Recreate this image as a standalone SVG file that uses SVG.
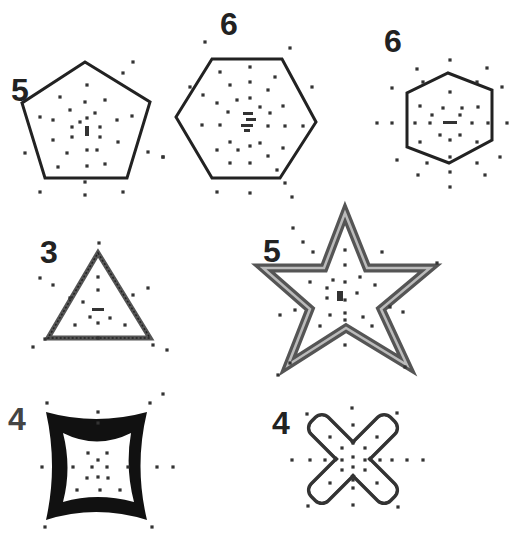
<svg xmlns="http://www.w3.org/2000/svg" width="510" height="534" viewBox="0 0 510 534">
<style>
.lbl{font-family:"Liberation Sans",Arial,sans-serif;font-weight:bold;font-size:32px;fill:#222}
.edge{fill:none;stroke:#222;stroke-width:3;stroke-linejoin:miter}
.d{fill:#333}
</style>
<defs>
<rect id="p" x="-1.6" y="-1.6" width="3.2" height="3.2"/>
</defs>
<rect width="510" height="534" fill="#fff"/>

<g id="pentagon">
<polygon class="edge" points="85,62 150,102 127,178 45,178 22,103"/>
<text class="lbl" x="11" y="101">5</text>
<g class="d">
<use href="#p" x="133" y="62"/><use href="#p" x="123" y="73"/><use href="#p" x="87" y="85"/><use href="#p" x="60" y="97"/><use href="#p" x="85" y="102"/><use href="#p" x="105" y="100"/><use href="#p" x="70" y="110"/><use href="#p" x="40" y="117"/><use href="#p" x="53" y="120"/><use href="#p" x="95" y="113"/><use href="#p" x="80" y="122"/><use href="#p" x="87" y="118"/><use href="#p" x="117" y="120"/><use href="#p" x="132" y="116"/><use href="#p" x="72" y="127"/><use href="#p" x="100" y="127"/><use href="#p" x="72" y="137"/><use href="#p" x="100" y="137"/><use href="#p" x="53" y="140"/><use href="#p" x="118" y="142"/><use href="#p" x="67" y="153"/><use href="#p" x="87" y="150"/><use href="#p" x="97" y="150"/><use href="#p" x="25" y="153"/><use href="#p" x="148" y="152"/><use href="#p" x="163" y="157"/><use href="#p" x="58" y="167"/><use href="#p" x="87" y="166"/><use href="#p" x="105" y="164"/><use href="#p" x="85" y="182"/><use href="#p" x="40" y="192"/><use href="#p" x="123" y="192"/><use href="#p" x="85" y="195"/>
<rect x="85" y="126" width="4" height="10"/>
</g>
</g>

<g id="hexagon-large">
<polygon class="edge" points="212,59 282,59 316,122 280,178 212,178 176,117"/>
<text class="lbl" x="220" y="35">6</text>
<g class="d">
<use href="#p" x="205" y="42"/><use href="#p" x="290" y="48"/><use href="#p" x="220" y="72"/><use href="#p" x="250" y="67"/><use href="#p" x="275" y="77"/><use href="#p" x="230" y="85"/><use href="#p" x="250" y="82"/><use href="#p" x="203" y="95"/><use href="#p" x="268" y="90"/><use href="#p" x="312" y="87"/><use href="#p" x="190" y="87"/><use href="#p" x="237" y="100"/><use href="#p" x="250" y="98"/><use href="#p" x="217" y="103"/><use href="#p" x="283" y="106"/><use href="#p" x="228" y="112"/><use href="#p" x="270" y="113"/><use href="#p" x="260" y="107"/><use href="#p" x="202" y="125"/><use href="#p" x="220" y="125"/><use href="#p" x="268" y="126"/><use href="#p" x="285" y="126"/><use href="#p" x="303" y="126"/><use href="#p" x="230" y="142"/><use href="#p" x="250" y="146"/><use href="#p" x="260" y="143"/><use href="#p" x="217" y="150"/><use href="#p" x="238" y="150"/><use href="#p" x="283" y="148"/><use href="#p" x="268" y="156"/><use href="#p" x="230" y="163"/><use href="#p" x="250" y="163"/><use href="#p" x="277" y="170"/><use href="#p" x="163" y="157"/><use href="#p" x="217" y="192"/><use href="#p" x="250" y="193"/><use href="#p" x="292" y="197"/><use href="#p" x="285" y="183"/>
<rect x="243" y="112" width="10" height="3"/><rect x="246" y="118" width="10" height="3"/><rect x="241" y="124" width="12" height="3"/><rect x="244" y="129" width="6" height="3"/>
</g>
</g>

<g id="hexagon-small">
<polygon class="edge" points="448,73 492,90 492,140 449,163 407,147 407,93"/>
<text class="lbl" x="384" y="52">6</text>
<g class="d">
<use href="#p" x="450" y="60"/><use href="#p" x="417" y="69"/><use href="#p" x="487" y="68"/><use href="#p" x="392" y="88"/><use href="#p" x="502" y="87"/><use href="#p" x="450" y="92"/><use href="#p" x="423" y="82"/><use href="#p" x="477" y="82"/><use href="#p" x="420" y="106"/><use href="#p" x="443" y="108"/><use href="#p" x="462" y="108"/><use href="#p" x="478" y="107"/><use href="#p" x="432" y="115"/><use href="#p" x="460" y="115"/><use href="#p" x="377" y="123"/><use href="#p" x="392" y="123"/><use href="#p" x="415" y="123"/><use href="#p" x="430" y="123"/><use href="#p" x="472" y="123"/><use href="#p" x="488" y="123"/><use href="#p" x="507" y="123"/><use href="#p" x="440" y="135"/><use href="#p" x="460" y="135"/><use href="#p" x="420" y="142"/><use href="#p" x="477" y="142"/><use href="#p" x="450" y="140"/><use href="#p" x="397" y="160"/><use href="#p" x="427" y="163"/><use href="#p" x="450" y="157"/><use href="#p" x="477" y="163"/><use href="#p" x="500" y="157"/><use href="#p" x="418" y="175"/><use href="#p" x="450" y="172"/><use href="#p" x="485" y="175"/><use href="#p" x="450" y="187"/>
<rect x="443" y="121" width="14" height="3"/>
</g>
</g>

<g id="triangle">
<polygon points="98,253 150,338 48,338" fill="none" stroke="#555" stroke-width="5" stroke-linejoin="miter"/>
<polygon points="98,253 150,338 48,338" fill="none" stroke="#222" stroke-width="1.5" stroke-dasharray="2 2"/>
<text class="lbl" x="40" y="263">3</text>
<g class="d">
<use href="#p" x="99" y="243"/><use href="#p" x="40" y="278"/><use href="#p" x="53" y="285"/><use href="#p" x="98" y="277"/><use href="#p" x="98" y="290"/><use href="#p" x="148" y="288"/><use href="#p" x="133" y="295"/><use href="#p" x="70" y="298"/><use href="#p" x="83" y="302"/><use href="#p" x="90" y="317"/><use href="#p" x="110" y="318"/><use href="#p" x="75" y="325"/><use href="#p" x="98" y="323"/><use href="#p" x="125" y="325"/><use href="#p" x="98" y="338"/><use href="#p" x="45" y="339"/><use href="#p" x="33" y="347"/><use href="#p" x="153" y="345"/><use href="#p" x="167" y="350"/>
<rect x="92" y="308" width="12" height="3"/>
</g>
</g>

<g id="star">
<polygon points="345,213 367,268 430,268 381,309 407,365 346,328 288,365 310,309 263,268 324,268" fill="none" stroke="#555" stroke-width="9" stroke-linejoin="miter"/>
<polygon points="345,213 367,268 430,268 381,309 407,365 346,328 288,365 310,309 263,268 324,268" fill="none" stroke="#bbb" stroke-width="2.5" stroke-linejoin="miter"/>
<text class="lbl" x="263" y="262">5</text>
<g class="d">
<use href="#p" x="293" y="228"/><use href="#p" x="303" y="242"/><use href="#p" x="313" y="252"/><use href="#p" x="345" y="250"/><use href="#p" x="382" y="252"/><use href="#p" x="437" y="263"/><use href="#p" x="345" y="265"/><use href="#p" x="310" y="282"/><use href="#p" x="333" y="280"/><use href="#p" x="345" y="282"/><use href="#p" x="360" y="277"/><use href="#p" x="375" y="285"/><use href="#p" x="327" y="288"/><use href="#p" x="357" y="293"/><use href="#p" x="327" y="298"/><use href="#p" x="345" y="300"/><use href="#p" x="295" y="310"/><use href="#p" x="280" y="315"/><use href="#p" x="390" y="307"/><use href="#p" x="403" y="312"/><use href="#p" x="330" y="315"/><use href="#p" x="345" y="313"/><use href="#p" x="363" y="317"/><use href="#p" x="345" y="320"/><use href="#p" x="320" y="326"/><use href="#p" x="372" y="326"/><use href="#p" x="345" y="345"/><use href="#p" x="290" y="363"/><use href="#p" x="405" y="367"/><use href="#p" x="278" y="375"/>
<rect x="337" y="291" width="6" height="10"/>
</g>
</g>

<g id="concave-square">
<path fill="#111" fill-rule="evenodd" d="M46,412 Q96,426 147,412 Q134,466 147,520 Q96,504 46,520 Q58,466 46,412 Z M63,433 Q97,450 131,433 Q125,468 134,502 Q97,492 63,502 Q72,468 63,433 Z"/>
<text class="lbl" x="8" y="430" style="fill:#444">4</text>
<g class="d">
<use href="#p" x="47" y="403"/><use href="#p" x="150" y="403"/><use href="#p" x="163" y="394"/><use href="#p" x="98" y="412"/><use href="#p" x="98" y="423"/><use href="#p" x="88" y="453"/><use href="#p" x="107" y="453"/><use href="#p" x="98" y="460"/><use href="#p" x="42" y="467"/><use href="#p" x="73" y="467"/><use href="#p" x="92" y="467"/><use href="#p" x="107" y="467"/><use href="#p" x="128" y="467"/><use href="#p" x="157" y="467"/><use href="#p" x="173" y="467"/><use href="#p" x="87" y="478"/><use href="#p" x="98" y="477"/><use href="#p" x="108" y="478"/><use href="#p" x="77" y="490"/><use href="#p" x="100" y="490"/><use href="#p" x="120" y="490"/><use href="#p" x="45" y="527"/><use href="#p" x="152" y="527"/>
</g>
</g>

<g id="cross">
<g transform="translate(353,459)">
<rect x="-56" y="-12" width="112" height="24" rx="9" fill="none" stroke="#333" stroke-width="3.5" transform="rotate(45)"/>
<rect x="-56" y="-12" width="112" height="24" rx="9" fill="none" stroke="#333" stroke-width="3.5" transform="rotate(-45)"/>
<rect x="-54" y="-10" width="108" height="20" rx="7" fill="#fff" transform="rotate(45)"/>
<rect x="-54" y="-10" width="108" height="20" rx="7" fill="#fff" transform="rotate(-45)"/>
</g>
<text class="lbl" x="272" y="434">4</text>
<g class="d">
<use href="#p" x="307" y="414"/><use href="#p" x="352" y="408"/><use href="#p" x="397" y="413"/><use href="#p" x="353" y="425"/><use href="#p" x="330" y="437"/><use href="#p" x="377" y="437"/><use href="#p" x="353" y="443"/><use href="#p" x="342" y="448"/><use href="#p" x="365" y="448"/><use href="#p" x="292" y="460"/><use href="#p" x="310" y="460"/><use href="#p" x="325" y="460"/><use href="#p" x="342" y="460"/><use href="#p" x="353" y="457"/><use href="#p" x="365" y="460"/><use href="#p" x="380" y="460"/><use href="#p" x="392" y="460"/><use href="#p" x="407" y="460"/><use href="#p" x="423" y="460"/><use href="#p" x="342" y="470"/><use href="#p" x="353" y="467"/><use href="#p" x="365" y="470"/><use href="#p" x="353" y="480"/><use href="#p" x="330" y="483"/><use href="#p" x="377" y="483"/><use href="#p" x="353" y="488"/><use href="#p" x="308" y="506"/><use href="#p" x="353" y="505"/><use href="#p" x="398" y="507"/>
</g>
</g>
</svg>
